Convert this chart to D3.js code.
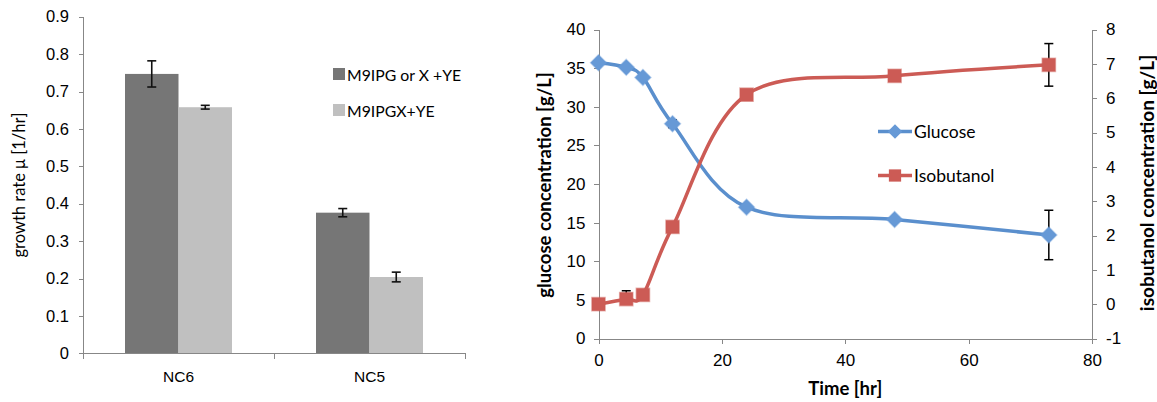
<!DOCTYPE html>
<html>
<head>
<meta charset="utf-8">
<script src="https://cdn.jsdelivr.net/npm/d3@7"></script>
<style>
  html, body { margin: 0; padding: 0; background: #fff; }
  svg { display: block; font-family: Lato, "Open Sans", sans-serif; }
  .axis path, .axis line { stroke: #878787; stroke-width: 1; shape-rendering: crispEdges; }
  .axis text { fill: #000; }
</style>
</head>
<body>
<svg id="chart" width="1157" height="402"></svg>
<script>
// ---- growth-rate bar chart ----
const strains = ["NC6", "NC5"];
const mediaNames = ["M9IPG or X +YE", "M9IPGX+YE"];
const rateFast = [0.747, 0.376];      // M9IPG or X +YE
const rateFastErr = [0.035, 0.011];
const rateMixed = [0.658, 0.204];     // M9IPGX+YE
const rateMixedErr = [0.005, 0.013];
const rateTicks = [0, 0.1, 0.2, 0.3, 0.4, 0.5, 0.6, 0.7, 0.8, 0.9];

// ---- fermentation time course ----
const timeHr = [0, 4.5, 7.2, 12, 24, 48, 73];
const glucose = [35.7, 35.1, 33.8, 27.8, 17.0, 15.4, 13.4];
const glucoseErrUp = [0, 0, 0, 0.5, 0, 0.3, 3.2];
const glucoseErrDown = [0, 0, 0, 0.5, 0, 0.3, 3.2];
const isobutanol = [0.0, 0.15, 0.27, 2.25, 6.1, 6.65, 6.97];
const isobutanolErrUp = [0, 0.24, 0, 0, 0, 0, 0.62];
const isobutanolErrDown = [0, 0.15, 0, 0, 0, 0, 0.62];
const timeTicks = [0, 20, 40, 60, 80];
const glucoseTicks = [0, 5, 10, 15, 20, 25, 30, 35, 40];
const isobutanolTicks = [-1, 0, 1, 2, 3, 4, 5, 6, 7, 8];

const svg = d3.select("#chart");
const barColors = ["#767676", "#c0c0c0"];

// ================= left panel =================
const L = { left: 83, right: 465, top: 16.7, bottom: 353.3 };
const yRate = d3.scaleLinear().domain([0, 0.9]).range([L.bottom, L.top]);
const xStrain = d3.scaleBand().domain(strains).range([L.left, L.right]);
const groupW = 107;
const xMedia = d3.scaleBand().domain(mediaNames)
  .range([(xStrain.bandwidth() - groupW) / 2, (xStrain.bandwidth() + groupW) / 2]);

const left = svg.append("g");

left.append("g").attr("class", "axis")
  .attr("transform", `translate(${L.left},0)`)
  .call(d3.axisLeft(yRate).tickValues(rateTicks).tickSize(4).tickPadding(10)
    .tickFormat(d => d3.format("")(+d.toFixed(1))))
  .call(g => g.selectAll("text").attr("font-size", 16.5))
  .call(g => g.select(".domain").attr("d", `M0,${L.bottom}V${L.top}`));

const barData = strains.flatMap((s, i) => [
  { s, m: mediaNames[0], v: rateFast[i], e: rateFastErr[i], c: barColors[0] },
  { s, m: mediaNames[1], v: rateMixed[i], e: rateMixedErr[i], c: barColors[1] }
]);

left.selectAll("rect.bar").data(barData).join("rect")
  .attr("class", "bar")
  .attr("x", d => xStrain(d.s) + xMedia(d.m))
  .attr("width", xMedia.bandwidth())
  .attr("y", d => yRate(d.v))
  .attr("height", d => yRate(0) - yRate(d.v))
  .attr("fill", d => d.c);

const errG = left.selectAll("g.err").data(barData).join("g").attr("class", "err")
  .attr("stroke", "#111").attr("stroke-width", 1.6);
errG.append("line")
  .attr("x1", d => xStrain(d.s) + xMedia(d.m) + xMedia.bandwidth() / 2)
  .attr("x2", d => xStrain(d.s) + xMedia(d.m) + xMedia.bandwidth() / 2)
  .attr("y1", d => yRate(d.v + d.e)).attr("y2", d => yRate(d.v - d.e));
[1, -1].forEach(sg => {
  errG.append("line")
    .attr("x1", d => xStrain(d.s) + xMedia(d.m) + xMedia.bandwidth() / 2 - 4.5)
    .attr("x2", d => xStrain(d.s) + xMedia(d.m) + xMedia.bandwidth() / 2 + 4.5)
    .attr("y1", d => yRate(d.v + sg * d.e)).attr("y2", d => yRate(d.v + sg * d.e));
});

left.append("g").attr("class", "axis")
  .attr("transform", `translate(0,${L.bottom})`)
  .call(d3.axisBottom(xStrain).tickSize(6).tickPadding(12))
  .call(g => g.selectAll(".tick line").remove())
  .call(g => g.select(".domain").attr("d", `M${L.left},0H${L.right}`))
  .call(g => g.selectAll("text").attr("font-size", 15.5))
  .call(g => g.selectAll(".edge").data([L.left, (L.left + L.right) / 2, L.right]).join("line")
    .attr("class", "edge").attr("x1", d => d).attr("x2", d => d)
    .attr("y1", 0).attr("y2", 6));

left.append("text")
  .attr("transform", `translate(19,${(L.top + L.bottom) / 2}) rotate(-90)`)
  .attr("text-anchor", "middle").attr("dy", "0.35em").attr("font-size", 16.5)
  .text("growth rate μ [1/hr]");

const legL = left.selectAll("g.leg").data(mediaNames).join("g").attr("class", "leg")
  .attr("transform", (d, i) => `translate(333,${68 + i * 36})`);
legL.append("rect").attr("width", 12).attr("height", 12).attr("fill", (d, i) => barColors[i]);
legL.append("text").attr("x", 14).attr("y", 7).attr("dy", "0.35em")
  .attr("font-size", 15.8).text(d => d);

// ================= right panel =================
const R = { left: 598.5, right: 1092, top: 29.5, bottom: 338.5 };
const xTime = d3.scaleLinear().domain([0, 80]).range([R.left, R.right]);
const yGlu = d3.scaleLinear().domain([0, 40]).range([R.bottom, R.top]);
const yIso = d3.scaleLinear().domain([-1, 8]).range([R.bottom, R.top]);

const right = svg.append("g");

right.append("g").attr("class", "axis")
  .attr("transform", `translate(${R.left},0)`)
  .call(d3.axisLeft(yGlu).tickValues(glucoseTicks).tickSize(5).tickPadding(8))
  .call(g => g.selectAll("text").attr("font-size", 17));

right.append("g").attr("class", "axis")
  .attr("transform", `translate(${R.right},0)`)
  .call(d3.axisRight(yIso).tickValues(isobutanolTicks).tickSize(5).tickPadding(9)
    .tickFormat(d => d < 0 ? "-" + Math.abs(d) : d))
  .call(g => g.selectAll("text").attr("font-size", 17));

right.append("g").attr("class", "axis")
  .attr("transform", `translate(0,${R.bottom})`)
  .call(d3.axisBottom(xTime).tickValues(timeTicks).tickSize(5).tickPadding(10))
  .call(g => g.selectAll("text").attr("font-size", 17));

right.append("text")
  .attr("x", (R.left + R.right) / 2).attr("y", 389).attr("dy", "0.35em")
  .attr("text-anchor", "middle").attr("font-size", 18.5).attr("font-weight", "bold")
  .text("Time [hr]");
right.append("text")
  .attr("transform", `translate(545,${(R.top + R.bottom) / 2 + 1}) rotate(-90)`)
  .attr("text-anchor", "middle").attr("dy", "0.35em")
  .attr("font-size", 18.5).attr("font-weight", "bold")
  .text("glucose concentration [g/L]");
right.append("text")
  .attr("transform", `translate(1147,${(R.top + R.bottom) / 2 - 1}) rotate(-90)`)
  .attr("text-anchor", "middle").attr("dy", "0.35em")
  .attr("font-size", 19).attr("font-weight", "bold")
  .text("isobutanol concentration [g/L]");

const blue = "#5a8fcd", blueMark = "#6699d6", red = "#cc5b55";
const series = [
  { name: "Glucose", vals: glucose, up: glucoseErrUp, down: glucoseErrDown, y: yGlu,
    color: blue, mark: blueMark, shape: d3.symbolDiamond2, size: 160 },
  { name: "Isobutanol", vals: isobutanol, up: isobutanolErrUp, down: isobutanolErrDown, y: yIso,
    color: red, mark: red, shape: d3.symbolSquare, size: 175 }
];

series.forEach(s => {
  const pts = timeHr.map((t, i) => ({ t, v: s.vals[i], up: s.up[i], down: s.down[i] }));
  const line = d3.line().x(d => xTime(d.t)).y(d => s.y(d.v)).curve(d3.curveCatmullRom.alpha(0));
  // error bars
  const eb = right.append("g").attr("stroke", "#000").attr("stroke-width", 1.5);
  pts.filter(d => d.up > 0 || d.down > 0).forEach(d => {
    const x = xTime(d.t), y1 = s.y(d.v + d.up), y2 = s.y(d.v - d.down);
    eb.append("line").attr("x1", x).attr("x2", x).attr("y1", y1).attr("y2", y2);
    eb.append("line").attr("x1", x - 4.5).attr("x2", x + 4.5).attr("y1", y1).attr("y2", y1);
    eb.append("line").attr("x1", x - 4.5).attr("x2", x + 4.5).attr("y1", y2).attr("y2", y2);
  });
  right.append("path").datum(pts).attr("d", line)
    .attr("fill", "none").attr("stroke", s.color).attr("stroke-width", 3.5);
  right.selectAll(null).data(pts).join("path")
    .attr("transform", d => `translate(${xTime(d.t)},${s.y(d.v)})`)
    .attr("d", d3.symbol(s.shape, s.size))
    .attr("fill", s.mark)
    .attr("stroke", s.mark).attr("stroke-opacity", 0.45).attr("stroke-width", 1.5);
});

const legR = right.selectAll("g.legr").data(series).join("g").attr("class", "legr")
  .attr("transform", (d, i) => `translate(878,${131.5 + i * 44})`);
legR.append("line").attr("x1", 0).attr("x2", 34).attr("stroke", d => d.color).attr("stroke-width", 3.5);
legR.append("path").attr("transform", "translate(17,0)")
  .attr("d", d => d3.symbol(d.shape, d.size - 25)())
  .attr("fill", d => d.mark);
legR.append("text").attr("x", 36).attr("dy", "0.35em").attr("font-size", 17.5).text(d => d.name);
</script>
</body>
</html>
